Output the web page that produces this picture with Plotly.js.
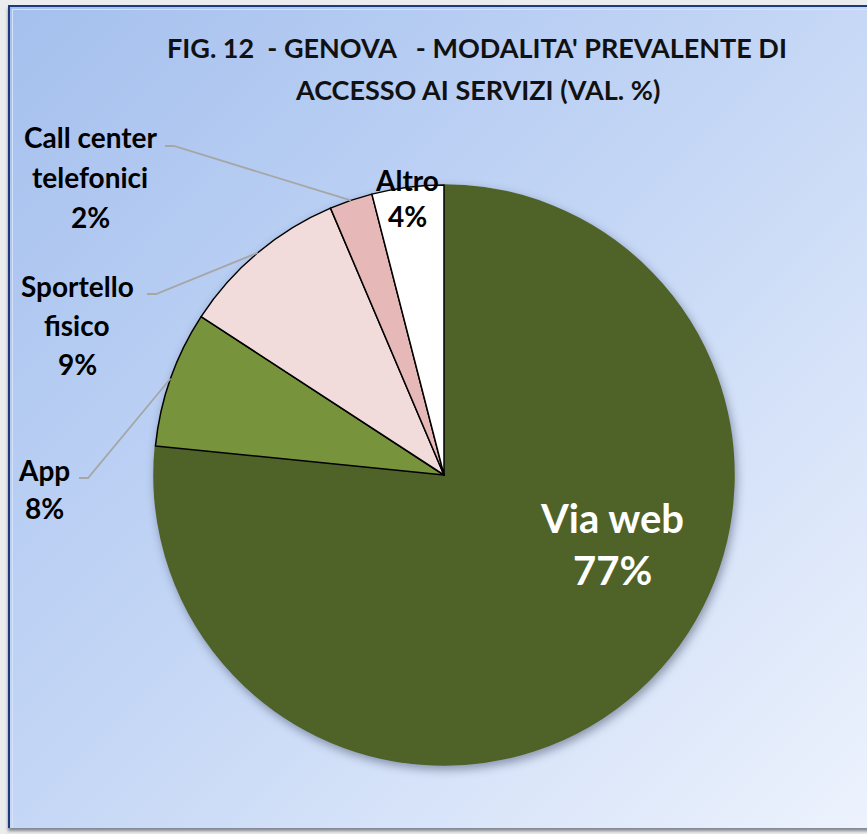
<!DOCTYPE html>
<html><head><meta charset="utf-8">
<script src="https://cdn.plot.ly/plotly-3.0.1.min.js"></script>
<style>
html,body{margin:0;padding:0;background:#ebecee;}
#wrap{position:relative;width:867px;height:834px;overflow:hidden;background:#ebecee;}
#frame{position:absolute;left:8px;top:5px;width:880px;height:821px;border-left:2px solid #1d3a7c;border-top:2px solid #1d3a7c;
 background:linear-gradient(135deg,#a5c0ee 0%,#c2d5f5 45%,#eef3fd 100%);box-shadow:0 3px 3px #80868f;}
#frame:after{content:"";position:absolute;left:2px;top:2px;right:0;bottom:0;border-left:1px solid #d6e2f7;border-top:1px solid #d6e2f7;}
#chart{position:absolute;left:0;top:0;width:867px;height:834px;}
.pielayer{filter:drop-shadow(2px 4px 5px rgba(40,50,80,0.45));}
</style></head>
<body><div id="wrap"><div id="frame"></div><div id="chart"></div></div>
<script>
// ---- data ----
const labels = ['Via web', 'App', 'Sportello fisico', 'Call center telefonici', 'Altro'];
const labelLines = [['Via web'], ['App'], ['Sportello', 'fisico'], ['Call center', 'telefonici'], ['Altro']];
const values = [76.6, 7.6, 9.4, 2.4, 4.0];
const colors = ['#4F6228', '#77933C', '#F2DCDB', '#E6B9B8', '#FFFFFF'];
const titleLines = ["FIG. 12\u00a0\u00a0- GENOVA\u00a0\u00a0\u00a0- MODALITA' PREVALENTE DI", "ACCESSO AI SERVIZI (VAL. %)"];

// ---- layout (pixels) ----
const W = 867, H = 834;
const cx = 444, cy = 475, R = 290;
const px = x => x / W, py = y => 1 - y / H;
const FONT = 'Lato, "Open Sans", sans-serif';

// label placement: centre x, first line centre y, line gap, size, colour
const labelPos = [
  {x: 612, y: 518, gap: 52, size: 40, color: '#ffffff'},
  {x: 44, y: 470, gap: 38, size: 28, color: '#000000', lead: [79, 478]},
  {x: 77, y: 286, gap: 39, size: 28, color: '#000000', lead: [147, 294]},
  {x: 90, y: 137, gap: 40, size: 28, color: '#000000', lead: [165, 146]},
  {x: 407, y: 180, gap: 36, size: 28, color: '#000000'}
];

const total = values.reduce((a, b) => a + b, 0);
const annotations = [];
const shapes = [];

titleLines.forEach((t, i) => {
  annotations.push({text: '<b>' + t + '</b>', x: px(477), y: py(48 + i * 41), xref: 'paper', yref: 'paper',
    xanchor: 'center', yanchor: 'middle', showarrow: false, font: {family: FONT, size: 27, color: '#111'}});
});

let cum = 0;
values.forEach((v, i) => {
  const frac = v / total;
  const mid = (cum + frac / 2) * 2 * Math.PI; // clockwise from 12 o'clock
  cum += frac;
  const p = labelPos[i];
  const lines = labelLines[i].concat([Math.round(frac * 100) + '%']);
  lines.forEach((t, j) => {
    annotations.push({text: '<b>' + t + '</b>', x: px(p.x), y: py(p.y + j * p.gap), xref: 'paper', yref: 'paper',
      xanchor: 'center', yanchor: 'middle', showarrow: false, font: {family: FONT, size: p.size, color: p.color}});
  });
  if (p.lead) {
    const ex = cx + R * Math.sin(mid), ey = cy - R * Math.cos(mid);
    const [sx, sy] = p.lead;
    shapes.push({type: 'path', xref: 'paper', yref: 'paper',
      path: `M ${px(sx)} ${py(sy)} L ${px(sx + 9)} ${py(sy)} L ${px(ex)} ${py(ey)}`,
      line: {color: '#a6a6a6', width: 1.8}});
  }
});

const data = [{
  type: 'pie', labels: labels, values: values, sort: false, direction: 'clockwise', rotation: 0,
  marker: {colors: colors, line: {color: ['#4F6228', '#000', '#000', '#000', '#000'], width: 1.5}},
  textinfo: 'none', hoverinfo: 'skip', showlegend: false,
  domain: {x: [px(cx - R), px(cx + R)], y: [py(cy + R), py(cy - R)]}
}];

const layout = {
  width: W, height: H, margin: {l: 0, r: 0, t: 0, b: 0},
  paper_bgcolor: 'rgba(0,0,0,0)', plot_bgcolor: 'rgba(0,0,0,0)',
  showlegend: false, annotations: annotations, shapes: shapes
};
Plotly.newPlot('chart', data, layout, {displayModeBar: false, staticPlot: true});
</script></body></html>
